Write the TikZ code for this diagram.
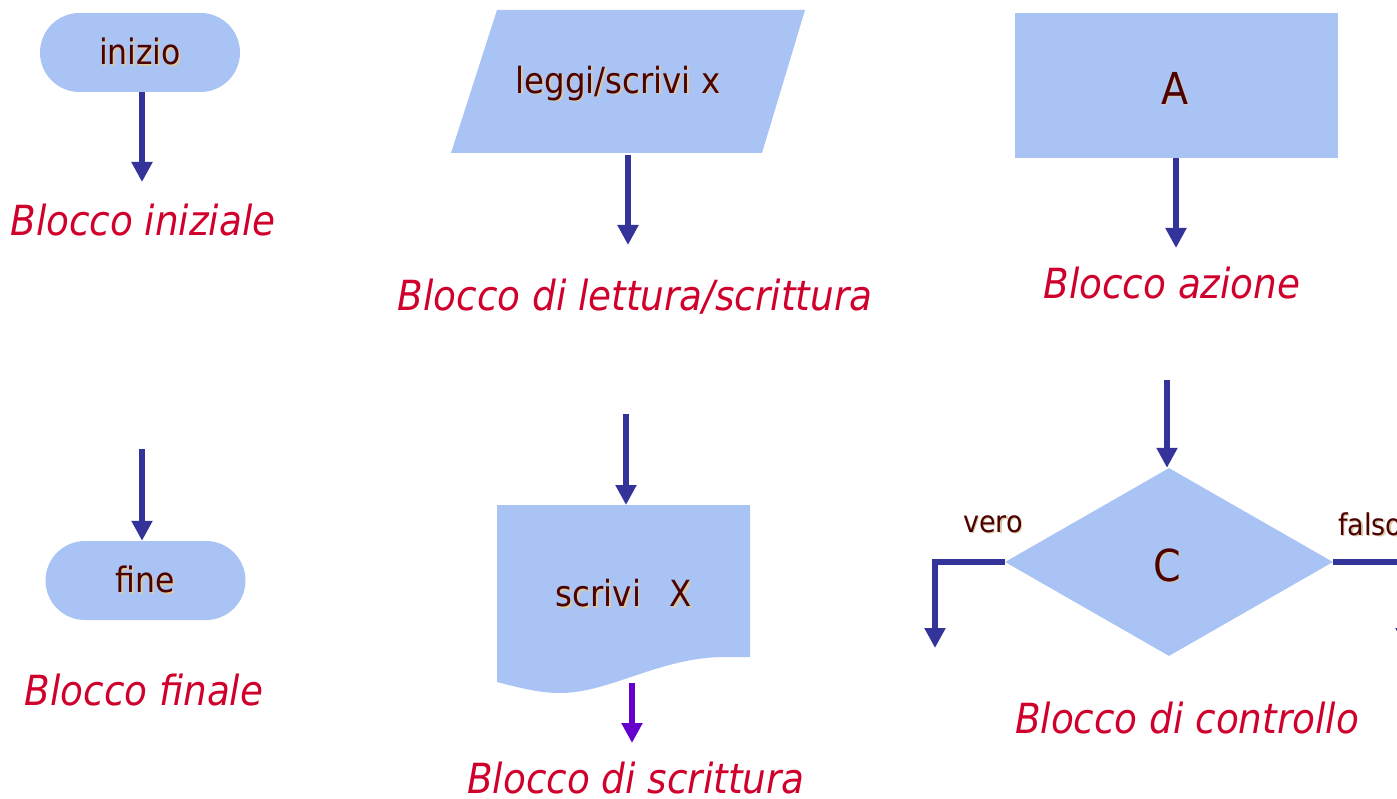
\documentclass[tikz,border=0pt]{standalone}
\usepackage{fontspec}
\setmainfont{DejaVu Sans Condensed}
\usetikzlibrary{arrows.meta,shapes.geometric,calc}

\definecolor{boxfill}{HTML}{A9C4F4}
\definecolor{arrowblue}{HTML}{333399}
\definecolor{arrowviolet}{HTML}{6600CC}
\definecolor{inktext}{HTML}{4D0000}
\definecolor{inkshadow}{HTML}{D9C9A9}
\definecolor{captionred}{HTML}{D0002C}

% text with a soft drop shadow
\newcommand\shadowed[1]{\makebox[0pt][l]{\kern1.5pt\raisebox{-1.5pt}{\textcolor{inkshadow}{#1}}}\textcolor{inktext}{#1}}

\tikzset{
  blockfill/.style={fill=boxfill, draw=none, inner sep=0pt},
  terminal/.style={blockfill, rectangle, rounded corners=39.5pt, minimum width=200pt, minimum height=79pt,
                   font=\fontsize{35}{40}\selectfont},
  flow/.style={draw=arrowblue, line width=6pt, line join=miter,
               -{Triangle[width=20pt,length=20pt]}},
  flowviolet/.style={flow, draw=arrowviolet},
  caption/.style={text=captionred, font=\fontsize{41.5}{48}\selectfont\itshape, inner sep=0pt},
  bodytext/.style={font=\fontsize{36}{42}\selectfont, inner sep=0pt},
  bigtext/.style={font=\fontsize{44}{50}\selectfont, inner sep=0pt},
  branchtext/.style={font=\fontsize{30}{36}\selectfont, inner sep=0pt},
}

\begin{document}
\begin{tikzpicture}[x=1pt,y=-1pt]
\useasboundingbox (0,0) rectangle (1397,799);
\clip (0,0) rectangle (1397,799);

% ---- start block ----
\node[terminal] (start) at (140,52.5) {\shadowed{inizio}};
\coordinate (startEnd) at (142,182);
\draw[flow] (start.south -| startEnd) -- (startEnd);
\node[caption] (capStart) at (143,220) {Blocco iniziale};

% ---- end block ----
\node[terminal] (stop) at (145.5,580.5) {\shadowed{fine}};
\coordinate (stopIn) at (142,449);
\draw[flow] (stopIn) -- (stopIn |- stop.north);
\node[caption] (capStop) at (144,690) {Blocco finale};

% ---- read/write block ----
\fill[boxfill] (497,10) -- (805,10) -- (762,153) -- (451,153) -- cycle;
\node[bodytext] (rw) at (618,84) {\shadowed{leggi/scrivi x}};
\coordinate (rwOut) at (628,155);
\coordinate (rwEnd) at (628,245);
\draw[flow] (rwOut) -- (rwEnd);
\node[caption] (capRW) at (635,297) {Blocco di lettura/scrittura};

% ---- output (document) block ----
\coordinate (docTop) at (626,505);
\fill[boxfill] (497,505) -- (750,505) -- (750,657) -- (725,657)
  .. controls (660,657) and (610,693) .. (560,693)
  .. controls (540,693) and (520,688) .. (497,682) -- cycle;
\node[bodytext] (doc) at (624,594)
  {\shadowed{scrivi}\hspace{29pt}\shadowed{X}};
\coordinate (docIn) at (626,414);
\draw[flow] (docIn) -- (docTop);
\coordinate (docOut) at (632,683);
\coordinate (docEnd) at (632,743);
\draw[flowviolet] (docOut) -- (docEnd);
\node[caption] (capDoc) at (636,778) {Blocco di scrittura};

% ---- action block ----
\fill[boxfill] (1015,13) rectangle (1338,158);
\node[bigtext] (act) at (1175,89) {\shadowed{A}};
\coordinate (actOut) at (1176,158);
\coordinate (actEnd) at (1176,248);
\draw[flow] (actOut) -- (actEnd);
\node[caption] (capAct) at (1172,283) {Blocco azione};

% ---- decision block ----
\node[blockfill, diamond, minimum width=328pt, minimum height=188pt] (dec) at (1169,562) {};
\node[bigtext] (decText) at (1167,566) {\shadowed{C}};
\coordinate (decIn) at (1167,380);
\draw[flow] (decIn) -- (decIn |- dec.north);
\coordinate (trueEnd) at (935,648);
\coordinate (falseEnd) at (1406,648);
\draw[flow] (dec.west) -| (trueEnd);
\draw[flow] (dec.east) -| (falseEnd);
\node[branchtext] (trueLbl) at (993,525) {\shadowed{vero}};
\node[branchtext, anchor=west] (falseLbl) at (1338,525) {\shadowed{falso}};
\node[caption] (capDec) at (1187,718) {Blocco di controllo};

\end{tikzpicture}
\end{document}
